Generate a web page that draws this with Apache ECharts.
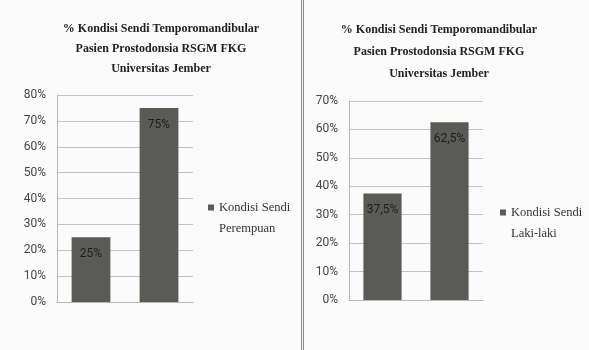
<!DOCTYPE html>
<html>
<head>
<meta charset="utf-8">
<script src="https://cdn.jsdelivr.net/npm/echarts@6/dist/echarts.min.js"></script>
<style>html,body{margin:0;padding:0;background:#fbfbfb}#c{width:589px;height:350px}</style>
</head>
<body>
<div id="c"></div>
<script>
const categories = ['Kategori 1', 'Kategori 2'];
const valuesPerempuan = [25, 75];
const valuesLaki = [37.5, 62.5];
const ticksLeft = {min: 0, max: 80, interval: 10};
const ticksRight = {min: 0, max: 70, interval: 10};
const titleText = '% Kondisi Sendi Temporomandibular\nPasien Prostodonsia RSGM FKG\nUniversitas Jember';
const seriesNameLeft = 'Kondisi Sendi Perempuan';
const seriesNameRight = 'Kondisi Sendi Laki-laki';

const chart = echarts.init(document.getElementById('c'));
const axisFont = {fontFamily: 'Liberation Sans Narrow, Roboto, sans-serif', fontSize: 12, color: '#444'};
const serif = 'Liberation Serif, DejaVu Serif, serif';
function fmtPct(v){ return String(v).replace('.', ',') + '%'; }

function yAxis(idx, t){
  return {
    type: 'value', gridIndex: idx, min: t.min, max: t.max, interval: t.interval,
    axisLabel: Object.assign({formatter: v => v + '%', margin: 11}, axisFont),
    axisLine: {show: true, lineStyle: {color: '#b8b8b8'}},
    axisTick: {show: false},
    splitLine: {lineStyle: {color: '#c4c4c4', width: 1}}
  };
}
function xAxis(idx){
  return {
    type: 'category', gridIndex: idx, data: categories,
    axisLabel: {show: false}, axisTick: {show: false},
    axisLine: {lineStyle: {color: '#b8b8b8'}}
  };
}
function barSeries(name, idx, data){
  return {
    name: name, type: 'bar', xAxisIndex: idx, yAxisIndex: idx, data: data,
    barWidth: '57%',
    itemStyle: {color: '#5a5a56'},
    label: {show: true, position: 'insideTop', distance: 11, formatter: p => fmtPct(p.value),
      fontFamily: 'Liberation Sans Narrow, Roboto, sans-serif', fontSize: 12, color: '#1e1e1e'}
  };
}
const legendText = {fontFamily: serif, fontSize: 12.5, color: '#333', lineHeight: 21};

chart.setOption({
  backgroundColor: '#fbfbfb',
  animation: false,
  title: [
    {text: titleText, left: 156, top: 14, textAlign: 'center',
     textStyle: {fontFamily: serif, fontWeight: 'bold', fontSize: 12, lineHeight: 20, color: '#222'}},
    {text: titleText, left: 434, top: 14, textAlign: 'center',
     textStyle: {fontFamily: serif, fontWeight: 'bold', fontSize: 12, lineHeight: 22, color: '#222'}}
  ],
  grid: [
    {left: 57, top: 95, width: 136, height: 207},
    {left: 349, top: 101, width: 134, height: 199}
  ],
  xAxis: [xAxis(0), xAxis(1)],
  yAxis: [yAxis(0, ticksLeft), yAxis(1, ticksRight)],
  legend: [
    {data: [seriesNameLeft], left: 208, top: 176, padding: 0, orient: 'vertical', icon: 'rect', itemWidth: 6, itemHeight: 6, itemGap: 2,
     formatter: () => '\nKondisi Sendi\nPerempuan', textStyle: legendText},
    {data: [seriesNameRight], left: 500, top: 181, padding: 0, orient: 'vertical', icon: 'rect', itemWidth: 6, itemHeight: 6, itemGap: 2,
     formatter: () => '\nKondisi Sendi\nLaki-laki', textStyle: legendText}
  ],
  series: [barSeries(seriesNameLeft, 0, valuesPerempuan), barSeries(seriesNameRight, 1, valuesLaki)],
  graphic: [
    {type: 'line', shape: {x1: 301.5, y1: 0, x2: 301.5, y2: 350}, style: {stroke: '#8a8a8a', lineWidth: 1}},
    {type: 'line', shape: {x1: 303.5, y1: 0, x2: 303.5, y2: 350}, style: {stroke: '#8a8a8a', lineWidth: 1}}
  ]
});
</script>
</body>
</html>
